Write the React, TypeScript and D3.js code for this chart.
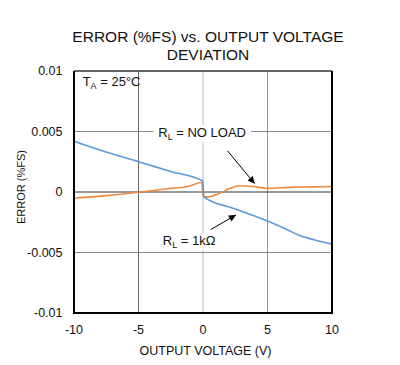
import React, { useRef, useEffect } from "react";
import * as d3 from "d3";

const width = 400;
const height = 365;
const plot = { left: 74, right: 332, top: 71, bottom: 313 };

// tick values
const xTicks = [-10, -5, 0, 5, 10];
const yTicks = [0.01, 0.005, 0, -0.005, -0.01];
const yTickLabels = ["0.01", "0.005", "0", "-0.005", "-0.01"];

// R_L = 1k ohm
const load1kX = [-10, -7.5, -5, -2.5, 0, 0.05, 2.5, 5, 6.5, 7.5, 8.8, 10];
const load1kY = [0.0042, 0.0033, 0.0025, 0.0017, 0.0009, -0.0004, -0.0014, -0.0024, -0.0031, -0.0036, -0.004, -0.0043];

// R_L = no load
const noLoadX = [-10, -7.5, -5, -2.5, -1, -0.1, 0, 0.1, 0.4, 1.3, 2.1, 2.9, 3.9, 5, 6, 7.1, 8.5, 10];
const noLoadY = [-0.00052, -0.0003, -0.00002, 0.0003, 0.0005, 0.0008, -0.0002, -0.0004, -0.0004, -0.0001, 0.0003, 0.00052, 0.00045, 0.0003, 0.00035, 0.0004, 0.00042, 0.00045];

const font = "'Liberation Sans', Arial, sans-serif";

const App = () => {
  const ref = useRef<SVGSVGElement>(null);

  useEffect(() => {
    const svg = d3.select(ref.current);
    svg.selectAll("*").remove();

    const x = d3.scaleLinear().domain([-10, 10]).range([plot.left, plot.right]);
    const y = d3.scaleLinear().domain([-0.01, 0.01]).range([plot.bottom, plot.top]);

    svg
      .append("defs")
      .append("marker")
      .attr("id", "arrow")
      .attr("viewBox", "0 0 10 10")
      .attr("refX", 10)
      .attr("refY", 5)
      .attr("markerWidth", 9)
      .attr("markerHeight", 7)
      .attr("markerUnits", "userSpaceOnUse")
      .attr("orient", "auto")
      .append("path")
      .attr("d", "M0,0L10,5L0,10z")
      .attr("fill", "#000");

    // title
    const title = svg
      .append("text")
      .attr("text-anchor", "middle")
      .style("font-family", font)
      .style("font-size", "15.5px")
      .attr("fill", "#111");
    title.append("tspan").attr("x", 208).attr("y", 42).text("ERROR (%FS) vs. OUTPUT VOLTAGE");
    title.append("tspan").attr("x", 208).attr("y", 60).text("DEVIATION");

    // gridlines
    const vGridColor = ["", "#666", "#bbb", "#999", ""];
    xTicks.forEach((t, i) => {
      if (i === 0 || i === xTicks.length - 1) return;
      svg
        .append("line")
        .attr("x1", x(t))
        .attr("x2", x(t))
        .attr("y1", plot.top)
        .attr("y2", plot.bottom)
        .attr("stroke", vGridColor[i])
        .attr("stroke-width", 1);
    });
    yTicks.forEach((t, i) => {
      if (i === 0 || i === yTicks.length - 1) return;
      svg
        .append("line")
        .attr("x1", plot.left)
        .attr("x2", plot.right)
        .attr("y1", y(t))
        .attr("y2", y(t))
        .attr("stroke", t === 0 ? "#333" : "#888")
        .attr("stroke-width", 1);
    });

    // labels with white boxes
    const label = (xv: number, yv: number, sub: string, rest: string, box: boolean) => {
      const g = svg.append("g");
      const t = g
        .append("text")
        .attr("x", x(xv))
        .attr("y", y(yv))
        .style("font-family", font)
        .style("font-size", "13px")
        .attr("fill", "#111");
      t.append("tspan").text(sub[0]);
      t.append("tspan").attr("dy", 3).style("font-size", "9px").text(sub.slice(1));
      t.append("tspan").attr("dy", -3).text(rest);
      if (box) {
        const bb = (t.node() as SVGTextElement).getBBox();
        g.insert("rect", "text")
          .attr("x", bb.x - 5)
          .attr("y", bb.y)
          .attr("width", bb.width + 10)
          .attr("height", bb.height)
          .attr("fill", "#fff");
      }
    };

    // series
    const line = d3
      .line<[number, number]>()
      .x(d => x(d[0]))
      .y(d => y(d[1]))
      .curve(d3.curveMonotoneX);

    svg
      .append("path")
      .datum(noLoadX.map((v, i) => [v, noLoadY[i]] as [number, number]))
      .attr("d", line)
      .attr("fill", "none")
      .attr("stroke", "#f08a3c")
      .attr("stroke-width", 1.6);

    svg
      .append("path")
      .datum(load1kX.map((v, i) => [v, load1kY[i]] as [number, number]))
      .attr("d", line)
      .attr("fill", "none")
      .attr("stroke", "#5b9ad8")
      .attr("stroke-width", 1.6);

    label(-9.33, 0.0088, "TA", " = 25°C", false);
    label(-3.47, 0.00455, "RL", " = NO LOAD", true);
    label(-3.12, -0.0044, "RL", " = 1kΩ", true);

    // arrows
    const arrows = [
      [1.9, 0.0034, 4.0, 0.0007],
      [0.6, -0.0031, 2.55, -0.0019],
    ];
    arrows.forEach(a => {
      svg
        .append("line")
        .attr("x1", x(a[0]))
        .attr("y1", y(a[1]))
        .attr("x2", x(a[2]))
        .attr("y2", y(a[3]))
        .attr("stroke", "#000")
        .attr("stroke-width", 1)
        .attr("marker-end", "url(#arrow)");
    });

    // frame
    svg
      .append("line")
      .attr("x1", plot.left)
      .attr("x2", plot.right)
      .attr("y1", plot.top)
      .attr("y2", plot.top)
      .attr("stroke", "#333")
      .attr("stroke-width", 1.5);
    svg
      .append("path")
      .attr("d", `M${plot.left},${plot.top}V${plot.bottom}H${plot.right}V${plot.top}`)
      .attr("fill", "none")
      .attr("stroke", "#000")
      .attr("stroke-width", 2);

    // tick labels
    svg
      .selectAll("text.yt")
      .data(yTicks)
      .enter()
      .append("text")
      .attr("class", "yt")
      .attr("x", 62.5)
      .attr("y", d => y(d))
      .attr("dy", "0.35em")
      .attr("text-anchor", "end")
      .style("font-family", font)
      .style("font-size", "12.5px")
      .attr("fill", "#111")
      .text((d, i) => yTickLabels[i]);

    svg
      .selectAll("text.xt")
      .data(xTicks)
      .enter()
      .append("text")
      .attr("class", "xt")
      .attr("x", d => x(d))
      .attr("y", 334)
      .attr("text-anchor", "middle")
      .style("font-family", font)
      .style("font-size", "12.5px")
      .attr("fill", "#111")
      .text(d => String(d));

    // axis titles
    svg
      .append("text")
      .attr("x", 205.5)
      .attr("y", 355)
      .attr("text-anchor", "middle")
      .style("font-family", font)
      .style("font-size", "12.5px")
      .attr("fill", "#111")
      .text("OUTPUT VOLTAGE (V)");

    svg
      .append("text")
      .attr("transform", "translate(21,187) rotate(-90)")
      .attr("dy", "0.35em")
      .attr("text-anchor", "middle")
      .style("font-family", font)
      .style("font-size", "11px")
      .attr("fill", "#111")
      .text("ERROR (%FS)");
  }, []);

  return (
    <div style={{ position: "absolute", left: 0, top: 0, background: "#fff" }}>
      <svg ref={ref} width={width} height={height} />
    </div>
  );
};

export default App;
